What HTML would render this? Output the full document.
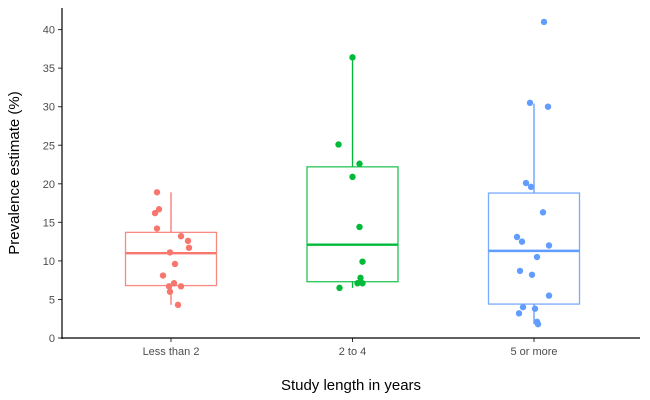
<!DOCTYPE html>
<html><head><meta charset="utf-8"><style>
body{margin:0;background:#fff}
svg{display:block;font-family:"Liberation Sans",Arial,sans-serif}
</style></head><body>
<svg id="c" width="650" height="400"></svg>
<script>
const categories=["Less than 2","2 to 4","5 or more"];
const colors=["#F8766D","#00BA38","#619CFF"];
const q1=[6.8,7.3,4.4];
const medians=[11.0,12.1,11.3];
const q3=[13.7,22.2,18.8];
const whiskLo=[4.3,6.5,1.8];
const whiskHi=[18.9,36.4,30.4];
const pts0=[18.9,16.7,16.2,14.2,13.2,12.6,11.7,11.1,9.6,8.1,7.1,6.7,6.7,6.0,4.3];
const jit0=[-14,-12,-16,-14,10,17,18,-1,4,-8,3,-2,10,-1,7];
const pts1=[36.4,25.1,22.6,20.9,14.4,9.9,7.8,7.1,7.1,6.5];
const jit1=[0,-14,7,0,7,10,8,5,10,-13];
const pts2=[41.0,30.5,30.0,20.1,19.6,16.3,13.1,12.5,12.0,10.5,8.7,8.2,5.5,4.0,3.8,3.2,2.1,1.8];
const jit2=[10,-4,14,-8,-3,9,-17,-12,15,3,-14,-2,15,-11,1,-15,3,4];
const yTicks=[0,5,10,15,20,25,30,35,40];
const points=[pts0,pts1,pts2], jitters=[jit0,jit1,jit2];

const NS="http://www.w3.org/2000/svg", svg=document.getElementById('c');
const L=62,R=640,T=8,B=338;
const y=v=>B-v*7.71;
const x=i=>171+i*181.5;
function el(t,a,p){const e=document.createElementNS(NS,t);for(const k in a)e.setAttribute(k,a[k]);(p||svg).appendChild(e);return e;}

for(const t of yTicks){
  const tk=el('line',{x1:L-4,x2:L,y1:y(t),y2:y(t),stroke:'#333'});
  
  
  const tx=el('text',{x:L-7,y:y(t)+4,'text-anchor':'end','font-size':11,fill:'#4d4d4d'});
  tx.textContent=t;
  
  
}
categories.forEach((c,i)=>{
  const cx=x(i),hw=45.5,col=colors[i];
  const g=el('g',{});
  
  
  el('line',{x1:cx,x2:cx,y1:y(q3[i]),y2:y(whiskHi[i]),stroke:col,'stroke-width':1.3},g);
  el('line',{x1:cx,x2:cx,y1:y(q1[i]),y2:y(whiskLo[i]),stroke:col,'stroke-width':1.3},g);
  el('rect',{x:cx-hw,y:y(q3[i]),width:hw*2,height:y(q1[i])-y(q3[i]),fill:'none',stroke:col,'stroke-width':1.3,'stroke-opacity':0.85},g);
  el('line',{x1:cx-hw,x2:cx+hw,y1:y(medians[i]),y2:y(medians[i]),stroke:col,'stroke-width':2.4},g);
  points[i].forEach((v,j)=>{
    const p=el('circle',{cx:cx+jitters[i][j],cy:y(v),r:3.2,fill:col},g);
    
    
  });
  const tk=el('line',{x1:cx,x2:cx,y1:B,y2:B+4,stroke:'#333'});
  
  
  const tx=el('text',{x:cx,y:B+17,'text-anchor':'middle','font-size':11,fill:'#4d4d4d'});
  tx.textContent=c;
  
  
});
const ya=el('line',{x1:L,x2:L,y1:T,y2:B+1,stroke:'#000','stroke-width':1.2});


const xa=el('line',{x1:L,x2:R,y1:B,y2:B,stroke:'#000','stroke-width':1.2});


const xt=el('text',{x:351,y:390,'text-anchor':'middle','font-size':15,fill:'#000'});
xt.textContent='Study length in years';


const yt=el('text',{x:0,y:0,'text-anchor':'middle','font-size':15,fill:'#000',transform:'translate(19,173) rotate(-90)'});
yt.textContent='Prevalence estimate (%)';


</script>
</body></html>
